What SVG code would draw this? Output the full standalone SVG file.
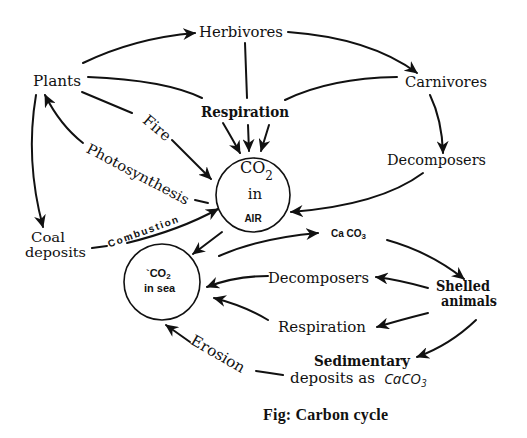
<svg xmlns="http://www.w3.org/2000/svg" width="527" height="438" viewBox="0 0 527 438">
<style>
.s{font-family:"DejaVu Serif","Liberation Serif",serif;fill:#111}
.b{font-family:"Liberation Sans","DejaVu Sans",sans-serif;font-weight:bold;fill:#111}
.c{fill:none;stroke:#111;stroke-width:2;stroke-linecap:round}
.a{marker-end:url(#ah)}
.n{fill:none;stroke:#111;stroke-width:1.6}
</style>
<defs>
<marker id="ah" markerUnits="userSpaceOnUse" markerWidth="14" markerHeight="12" viewBox="0 0 14 12" refX="12" refY="6" orient="auto">
<path d="M0,0 L13,6 L0,12 L4,6 z" fill="#111"/>
</marker>
</defs>
<rect width="527" height="438" fill="#fff"/>

<g id="herbivores"><text class="s" x="199" y="37" font-size="15" textLength="84" lengthAdjust="spacingAndGlyphs">Herbivores</text></g>
<g id="plants"><text class="s" x="33" y="86" font-size="14" textLength="48" lengthAdjust="spacingAndGlyphs" fill="#333">Plants</text></g>
<g id="carnivores"><text class="s" x="405" y="87" font-size="15" textLength="82" lengthAdjust="spacingAndGlyphs">Carnivores</text></g>
<g id="respiration1"><text class="s" x="201" y="117" font-size="15" font-weight="bold" textLength="88" lengthAdjust="spacingAndGlyphs">Respiration</text></g>
<g id="decomposers1"><text class="s" x="387" y="165" font-size="15" textLength="99" lengthAdjust="spacingAndGlyphs">Decomposers</text></g>
<g id="co2air">
<circle class="n" cx="253" cy="195" r="37"/>
<text class="s" x="240" y="173" font-size="16">CO<tspan font-size="12" dy="7">2</tspan></text>
<text class="s" x="255" y="199" font-size="15" text-anchor="middle">in</text>
<text class="b" x="253" y="222" font-size="10" text-anchor="middle">AIR</text>
</g>
<g id="coal"><text class="s" x="31" y="242" font-size="13" fill="#333" textLength="34" lengthAdjust="spacingAndGlyphs">Coal</text><text class="s" x="25" y="257" font-size="13" fill="#333" textLength="61" lengthAdjust="spacingAndGlyphs">deposits</text></g>
<g id="co2sea">
<circle class="n" cx="162" cy="282" r="38"/>
<text class="b" x="146" y="277" font-size="11">`CO<tspan font-size="8" dy="2">2</tspan></text>
<text class="b" x="144" y="292" font-size="11">in  sea</text>
</g>
<g id="caco3"><text class="b" x="331" y="237" font-size="10">Ca CO<tspan font-size="8" dy="2">3</tspan></text></g>
<g id="decomposers2"><text class="s" x="268" y="283" font-size="15" textLength="101" lengthAdjust="spacingAndGlyphs">Decomposers</text></g>
<g id="shelled"><text class="s" x="436" y="291" font-size="14" font-weight="bold" textLength="54" lengthAdjust="spacingAndGlyphs">Shelled</text><text class="s" x="441" y="306" font-size="14" font-weight="bold" textLength="56" lengthAdjust="spacingAndGlyphs">animals</text></g>
<g id="respiration2"><text class="s" x="278" y="332" font-size="15" textLength="88" lengthAdjust="spacingAndGlyphs">Respiration</text></g>
<g id="sedimentary"><text class="s" x="314" y="366" font-size="14" font-weight="bold" textLength="96" lengthAdjust="spacingAndGlyphs">Sedimentary</text>
<text class="s" x="290" y="383" font-size="15" textLength="85" lengthAdjust="spacingAndGlyphs">deposits  as</text>
<text x="384" y="384" font-family="'Open Sans','Liberation Sans',sans-serif" font-style="italic" font-size="15" fill="#111">CaCO<tspan font-size="10" dy="3">3</tspan></text></g>

<g id="labels">
<text class="s" font-size="15" text-anchor="middle" transform="translate(157,128) rotate(40)" y="5">Fire</text>
<text class="s" font-size="14" text-anchor="middle" transform="translate(138,174) rotate(28)" y="5" textLength="114" lengthAdjust="spacingAndGlyphs">Photosynthesis</text>
<text class="b" font-size="10" text-anchor="middle" transform="translate(143,232) rotate(-20)" y="3" textLength="74">Combustion</text>
<text class="s" font-size="15" text-anchor="middle" transform="translate(218,354) rotate(30)" y="5" textLength="60" lengthAdjust="spacingAndGlyphs">Erosion</text>
</g>

<g id="connectors">
<path class="c a" d="M83,63 Q135,38 195,33"/>
<path class="c a" d="M288,32 Q370,38 417,73"/>
<path class="c" d="M245,43 L247,98"/>
<path class="c" d="M88,77 Q165,80 202,98"/>
<path class="c" d="M397,77 Q330,78 285,100"/>
<path class="c a" d="M223,123 Q233,140 240,153"/>
<path class="c a" d="M248,125 L249,151"/>
<path class="c a" d="M269,125 L261,151"/>
<path class="c" d="M82,92 L132,113"/>
<path class="c a" d="M172,140 L211,179"/>
<path class="c" d="M195,200 L208,203"/>
<path class="c a" d="M83,143 Q60,125 45,95"/>
<path class="c a" d="M36,95 Q25,160 43,227"/>
<path class="c" d="M92,248 L107,246"/>
<path class="c a" d="M127,243 Q180,230 218,209"/>
<path class="c a" d="M430,95 Q442,120 443,153"/>
<path class="c a" d="M423,173 Q380,205 291,212"/>
<path class="c a" d="M222,232 L193,254"/>
<path class="c a" d="M219,256 Q260,238 318,233"/>
<path class="c a" d="M387,240 Q430,252 464,279"/>
<path class="c a" d="M428,288 Q400,280 376,277"/>
<path class="c a" d="M268,276 Q235,276 207,287"/>
<path class="c a" d="M428,313 Q400,320 377,327"/>
<path class="c a" d="M268,320 Q245,306 214,298"/>
<path class="c a" d="M476,320 Q450,345 417,357"/>
<path class="c" d="M283,375 Q270,373 256,371"/>
<path class="c a" d="M190,342 L166,325"/>
</g>

<g id="caption"><text x="263" y="420" font-family="'Liberation Serif','DejaVu Serif',serif" font-weight="bold" font-size="16" textLength="125" fill="#111">Fig: Carbon cycle</text></g>
</svg>
